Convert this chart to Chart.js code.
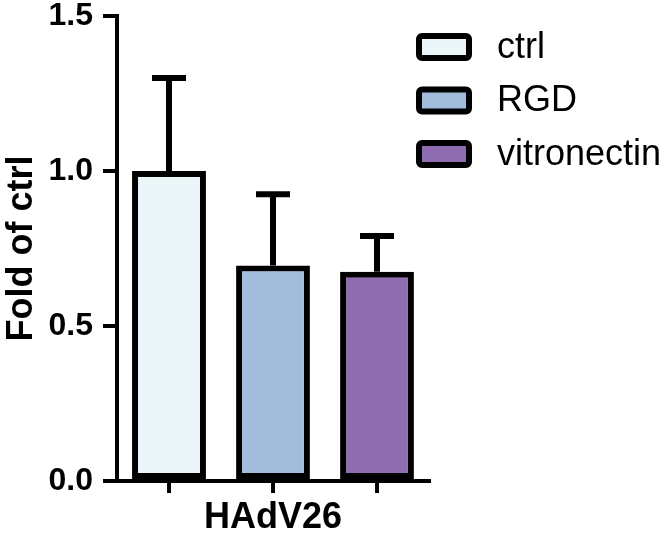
<!DOCTYPE html>
<html>
<head>
<meta charset="utf-8">
<script src="https://cdn.jsdelivr.net/npm/chart.js@4/dist/chart.umd.min.js"></script>
<style>
html,body{margin:0;padding:0;background:#fff;}
#wrap{width:666px;height:549px;}
</style>
</head>
<body>
<div id="wrap"><canvas id="c" width="666" height="549"></canvas></div>
<script>
const categories = ["ctrl", "RGD", "vitronectin"];
const means = [1.0, 0.695, 0.675];
const errors = [0.30, 0.23, 0.115];
const colors = ["#ebf6f9", "#a1bddb", "#8d6cb0"];
const yTicks = [0, 0.5, 1.0, 1.5];
const xTitle = "HAdV26";
const yTitle = "Fold of ctrl";

const FONT = "'Liberation Sans', Arial, Helvetica, sans-serif";

const datasets = categories.map((name, i) => ({
  label: name,
  data: categories.map((c, j) => (j === i ? means[i] : null)),
  backgroundColor: colors[i],
  borderColor: "#000",
  borderWidth: 6,
  borderSkipped: false,
  grouped: false,
  categoryPercentage: 1.0,
  barPercentage: 0.71
}));

const errorBars = {
  id: "errorBars",
  afterDatasetsDraw(chart) {
    const ctx = chart.ctx;
    const y = chart.scales.y;
    ctx.save();
    ctx.strokeStyle = "#000";
    ctx.lineWidth = 6;
    ctx.lineCap = "butt";
    categories.forEach((c, i) => {
      const el = chart.getDatasetMeta(i).data[i];
      if (!el) return;
      const top = y.getPixelForValue(means[i] + errors[i]);
      ctx.beginPath();
      ctx.moveTo(el.x, el.y);
      ctx.lineTo(el.x, top);
      ctx.stroke();
      ctx.beginPath();
      ctx.moveTo(el.x - 17, top);
      ctx.lineTo(el.x + 17, top);
      ctx.stroke();
    });
    ctx.restore();
  }
};

const customLegend = {
  id: "customLegend",
  afterDraw(chart) {
    const ctx = chart.ctx;
    ctx.save();
    chart.data.datasets.forEach((ds, i) => {
      const bx = 419, by = 36 + i * 53.5, bw = 50, bh = 22;
      ctx.beginPath();
      if (ctx.roundRect) ctx.roundRect(bx, by, bw, bh, 3); else ctx.rect(bx, by, bw, bh);
      ctx.fillStyle = ds.backgroundColor;
      ctx.fill();
      ctx.lineWidth = 6;
      ctx.strokeStyle = "#000";
      ctx.stroke();
      ctx.fillStyle = "#000";
      ctx.font = "36px " + FONT;
      ctx.textAlign = "left";
      ctx.textBaseline = "middle";
      ctx.fillText(ds.label, 497, by + bh / 2 + 1);
    });
    ctx.restore();
  }
};

new Chart(document.getElementById("c"), {
  type: "bar",
  data: { labels: categories, datasets: datasets },
  options: {
    responsive: false,
    animation: false,
    events: [],
    layout: { padding: { top: 16, right: 237, bottom: 0, left: 0 } },
    plugins: { legend: { display: false }, tooltip: { enabled: false } },
    scales: {
      x: {
        type: "category",
        offset: true,
        grid: { display: true, drawOnChartArea: false, offset: false, tickLength: 12, lineWidth: 4, color: "#000" },
        border: { display: true, width: 4, color: "#000" },
        ticks: { display: false },
        title: { display: true, text: xTitle, color: "#000", font: { family: FONT, size: 36, weight: "bold" }, padding: { top: 0, bottom: 9 } },
        afterFit(s) { s.height = 68; s.paddingLeft = 0; s.paddingRight = 0; }
      },
      y: {
        min: 0,
        max: 1.5,
        afterBuildTicks(s) { s.ticks = yTicks.map(v => ({ value: v })); },
        ticks: {
          color: "#000",
          padding: 10,
          font: { family: FONT, size: 32, weight: "bold", lineHeight: 1.0 },
          callback: v => Number(v).toFixed(1)
        },
        grid: { display: true, drawOnChartArea: false, tickLength: 14, lineWidth: 4, color: "#000" },
        border: { display: true, width: 4, color: "#000" },
        title: { display: true, text: yTitle, color: "#000", font: { family: FONT, size: 36, weight: "bold" }, padding: { top: 0, bottom: 0 } },
        afterFit(s) { s.width = 117; s.paddingTop = 0; s.paddingBottom = 0; }
      }
    }
  },
  plugins: [errorBars, customLegend]
});
</script>
</body>
</html>
